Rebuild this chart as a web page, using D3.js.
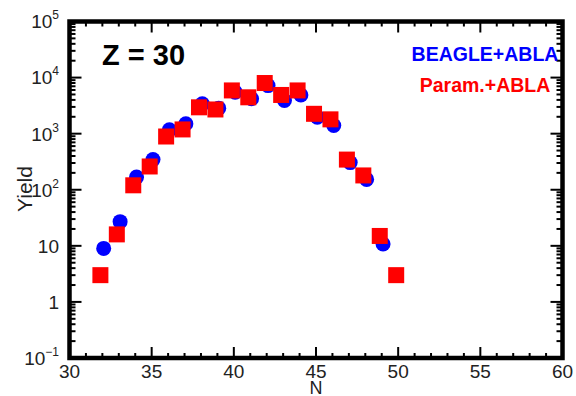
<!DOCTYPE html>
<html>
<head>
<meta charset="utf-8">
<script src="https://cdn.jsdelivr.net/npm/d3@7"></script>
<style>
  body { margin: 0; background: #fff; }
  svg { display: block; font-family: "Liberation Sans", Arial, sans-serif; }
</style>
</head>
<body>
<div id="chart"></div>
<script>
// values
var neutronsBeagle = [32, 33, 34, 35, 36, 37, 38, 39, 40, 41, 42, 43, 44, 45, 46, 47, 48, 49];
var yieldBeagle    = [9, 27, 168, 345, 1170, 1500, 3400, 2850, 5500, 4200, 7200, 3900, 4900, 1970, 1400, 305, 153, 10.8];

var neutronsParam = [32, 33, 34, 35, 36, 37, 38, 39, 40, 41, 42, 43, 44, 45, 46, 47, 48, 49, 50];
var yieldParam    = [3, 16, 120, 260, 890, 1190, 2950, 2700, 5900, 4450, 8000, 4900, 5900, 2260, 1800, 345, 180, 15, 3];

var xTickValues = [30, 35, 40, 45, 50, 55, 60];
var yTickExponents = [-1, 0, 1, 2, 3, 4, 5];

var width = 576, height = 396;
// note: "top" is taken by window.top, so plot edges get their own names
var plotLeft = 69.5, plotRight = 562.5, plotTop = 21.5, plotBottom = 358;

var svg = d3.select('#chart').append('svg')
	.attr('width', width)
	.attr('height', height);

var x = d3.scaleLinear().domain([30, 60]).range([plotLeft, plotRight]);
var y = d3.scaleLog().domain([0.1, 1e5]).range([plotBottom, plotTop]);

// ticks, all pointing inwards, on every side
var ticks = svg.append('g').attr('stroke', '#000').attr('stroke-width', 2);

d3.range(30, 61).forEach(function(n) {
	var major = n % 5 === 0;
	var len = major ? 11 : 5;
	ticks.append('line').attr('x1', x(n)).attr('x2', x(n)).attr('y1', plotBottom).attr('y2', plotBottom - len);
	ticks.append('line').attr('x1', x(n)).attr('x2', x(n)).attr('y1', plotTop).attr('y2', plotTop + len);
});

y.ticks().forEach(function(v) {
	var e = Math.log10(v);
	var major = Math.abs(e - Math.round(e)) < 1e-9;
	var len = major ? 12 : 6;
	ticks.append('line').attr('x1', plotLeft).attr('x2', plotLeft + len).attr('y1', y(v)).attr('y2', y(v));
	ticks.append('line').attr('x1', plotRight).attr('x2', plotRight - len).attr('y1', y(v)).attr('y2', y(v));
});

svg.append('rect')
	.attr('x', plotLeft).attr('y', plotTop)
	.attr('width', plotRight - plotLeft).attr('height', plotBottom - plotTop)
	.attr('fill', 'none').attr('stroke', '#000').attr('stroke-width', 4.5);

// tick labels
svg.append('g').selectAll('text')
	.data(xTickValues)
	.enter().append('text')
	.attr('x', function(d) { return x(d); })
	.attr('y', 378)
	.attr('text-anchor', 'middle')
	.attr('font-size', 19)
	.attr('fill', '#222')
	.text(function(d) { return d; });

var yLabels = svg.append('g').attr('fill', '#222').attr('text-anchor', 'end');
yTickExponents.forEach(function(e) {
	var t = yLabels.append('text')
		.attr('x', 59)
		.attr('y', y(Math.pow(10, e)))
		.attr('dy', '0.36em')
		.attr('font-size', 19);
	if (e === 0) t.text('1');
	else if (e === 1) t.text('10');
	else {
		t.append('tspan').text('10');
		t.append('tspan').attr('font-size', 12).attr('dy', '-0.75em').text(e < 0 ? '\u2212' + (-e) : e);
	}
});

svg.append('text')
	.attr('x', x(45)).attr('y', 394)
	.attr('text-anchor', 'middle')
	.attr('font-size', 18).attr('fill', '#222')
	.text('N');

svg.append('text')
	.attr('transform', 'translate(32,' + 189 + ') rotate(-90)')
	.attr('text-anchor', 'middle')
	.attr('font-size', 21).attr('fill', '#222')
	.text('Yield');

// points: blue circles under red squares
svg.append('g').selectAll('circle')
	.data(neutronsBeagle)
	.enter().append('circle')
	.attr('cx', function(d) { return x(d + 0.08); })
	.attr('cy', function(d, i) { return y(yieldBeagle[i]); })
	.attr('r', 7.5)
	.attr('fill', '#0000ff');

var side = 16;
svg.append('g').selectAll('rect')
	.data(neutronsParam)
	.enter().append('rect')
	.attr('x', function(d) { return x(d - 0.12) - side / 2; })
	.attr('y', function(d, i) { return y(yieldParam[i]) - side / 2; })
	.attr('width', side).attr('height', side)
	.attr('fill', '#ff0000');

// labels inside the frame
svg.append('text')
	.attr('x', 102).attr('y', 65)
	.attr('font-size', 29).attr('font-weight', 'bold')
	.text('Z = 30');

svg.append('text')
	.attr('x', 485).attr('y', 61)
	.attr('text-anchor', 'middle')
	.attr('font-size', 19.5).attr('font-weight', 'bold')
	.attr('fill', '#0000ff')
	.text('BEAGLE+ABLA');

svg.append('text')
	.attr('x', 485).attr('y', 92)
	.attr('text-anchor', 'middle')
	.attr('font-size', 19.5).attr('font-weight', 'bold')
	.attr('fill', '#ff0000')
	.text('Param.+ABLA');
</script>
</body>
</html>
